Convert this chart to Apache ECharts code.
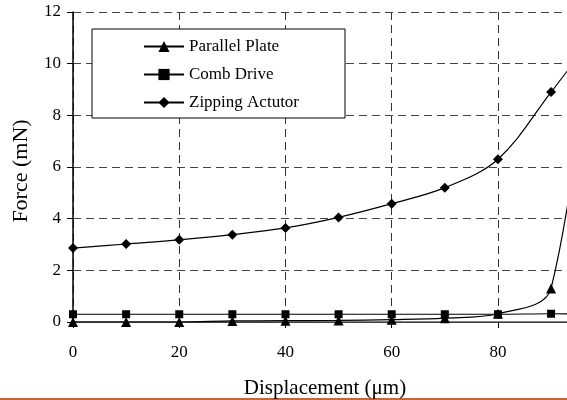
<!DOCTYPE html>
<html>
<head>
<meta charset="utf-8">
<script src="https://cdn.jsdelivr.net/npm/echarts@6/dist/echarts.min.js"></script>
<style>
  html, body { margin: 0; padding: 0; background: #fff; }
  #chart { width: 567px; height: 400px; }
</style>
</head>
<body>
<div id="chart"></div>
<script>
var displacement = [0, 10, 20, 30, 40, 50, 60, 70, 80, 90, 100];
var parallelPlate = [0, 0, 0, 0.04, 0.05, 0.06, 0.09, 0.15, 0.32, 1.3, 17];
var combDrive = [0.3, 0.3, 0.3, 0.3, 0.3, 0.3, 0.3, 0.3, 0.3, 0.32, 0.3];
var zippingActutor = [2.86, 3.02, 3.18, 3.38, 3.64, 4.05, 4.58, 5.2, 6.3, 8.9, 11.6];
var seriesNames = ['Parallel Plate', 'Comb Drive', 'Zipping Actutor'];
var symbols = ['triangle', 'rect', 'diamond'];

function pairs(values) {
  return displacement.map(function (x, i) { return [x, values[i]]; });
}

var serif = '"Liberation Serif", "DejaVu Serif", serif';
var chart = echarts.init(document.getElementById('chart'));

// the source picture is cut off on the right, a little past 90
var xVisibleMax = 93;

var option = {
  backgroundColor: '#fff',
  animation: false,
  textStyle: { fontFamily: serif, color: '#000' },
  grid: { left: 73, top: 12, bottom: 78, right: 0, outerBoundsMode: 'none' },
  legend: {
    orient: 'vertical',
    left: 92, top: 29,
    padding: [9, 46, 7, 51],
    backgroundColor: '#fff',
    borderColor: '#000', borderWidth: 1,
    itemWidth: 40, itemHeight: 14, itemGap: 11,
    textStyle: { fontFamily: serif, fontSize: 17, color: '#000' },
    data: seriesNames
  },
  xAxis: [{
    type: 'value', min: 0, max: xVisibleMax, interval: 20,
    name: 'Displacement (\u03bcm)',
    nameLocation: 'middle', nameGap: 56,
    nameTextStyle: { fontFamily: serif, fontSize: 21, color: '#000', padding: [0, 0, 0, 10] },
    axisLine: { show: true, onZero: false, lineStyle: { color: '#000', width: 1 } },
    axisTick: { show: true, length: 6, lineStyle: { color: '#000' } },
    axisLabel: {
      fontFamily: serif, fontSize: 17, color: '#000', margin: 22,
      formatter: function (v) { return v % 20 === 0 ? String(v) : ''; }
    },
    splitLine: { show: true, lineStyle: { color: '#333', type: [8, 5], width: 1 } }
  }, {
    type: 'value', position: 'top', min: 0, max: xVisibleMax,
    axisLine: { show: true, lineStyle: { color: '#555', width: 1.5 } },
    axisTick: { show: false }, axisLabel: { show: false }, splitLine: { show: false }
  }],
  yAxis: {
    type: 'value', min: 0, max: 12, interval: 2,
    name: 'Force (mN)',
    nameLocation: 'middle', nameGap: 41,
    nameTextStyle: { fontFamily: serif, fontSize: 22, color: '#000', padding: [0, 8, 0, 0] },
    axisLine: { show: true, lineStyle: { color: '#000', width: 1.5 } },
    axisTick: { show: true, length: 6, lineStyle: { color: '#000' } },
    axisLabel: { fontFamily: serif, fontSize: 17, color: '#000', margin: 12 },
    splitLine: { show: true, lineStyle: { color: '#444', type: [8, 5], width: 1 } }
  },
  graphic: [{
    type: 'rect', left: 0, top: 398, silent: true,
    shape: { width: 567, height: 2 },
    style: { fill: '#c8653f' }
  }],
  series: [parallelPlate, combDrive, zippingActutor].map(function (vals, i) {
    return {
      name: seriesNames[i],
      type: 'line',
      xAxisIndex: 0,
      data: pairs(vals),
      smooth: 0.35,
      symbol: symbols[i],
      symbolSize: i === 1 ? 8 : 10,
      showAllSymbol: true,
      clip: true,
      color: '#000',
      lineStyle: { color: '#000', width: 1.2 },
      itemStyle: { color: '#000' },
      emphasis: { disabled: true }
    };
  })
};

chart.setOption(option);
</script>
</body>
</html>
